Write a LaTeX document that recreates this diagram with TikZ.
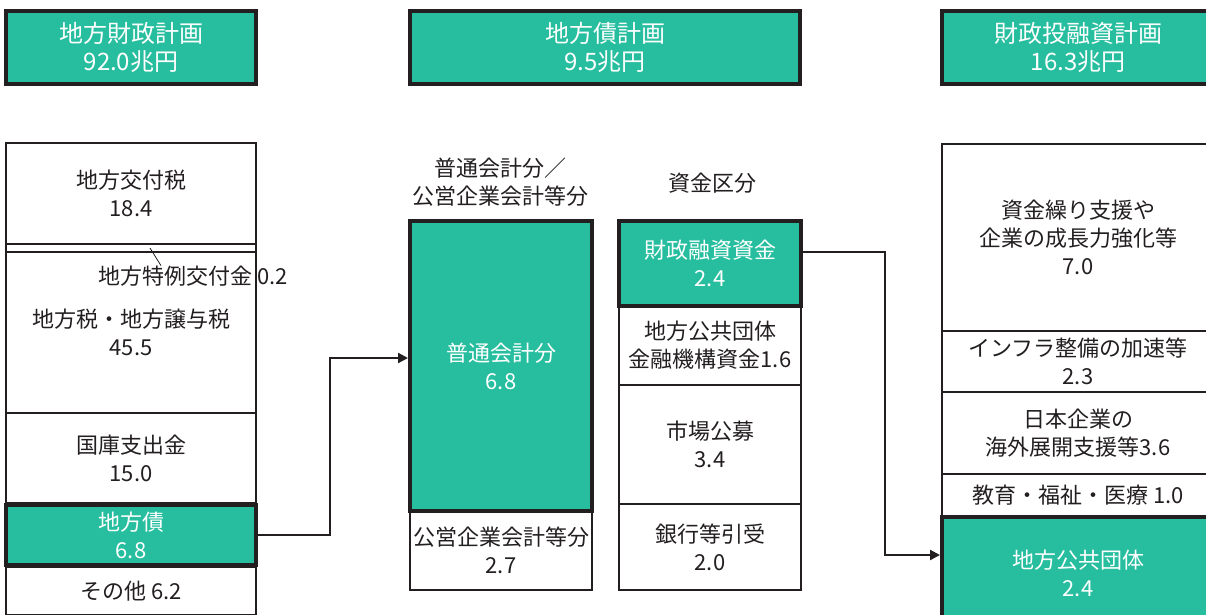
\documentclass[tikz,border=0pt]{standalone}
\usepackage{fontspec}
\setmainfont{Noto Sans CJK JP}
\usetikzlibrary{arrows.meta,calc}
\definecolor{ink}{HTML}{231F20}
\definecolor{mint}{HTML}{27BE9F}
\newcommand{\segfont}{\fontsize{22}{28}\selectfont}
\newcommand{\planfont}{\fontsize{24}{28}\selectfont}

\begin{document}
\begin{tikzpicture}[x=1pt,y=-1pt,
  seg/.style={draw=ink,line width=1.5pt,inner sep=0pt,align=center,text=ink,font=\segfont},
  hot/.style={seg,fill=mint,line width=4pt,text=white},
  plan/.style={hot,font=\planfont},
  link/.style={draw=ink,line width=2.2pt,-{Triangle[length=10pt,width=10pt]}},
  leader/.style={draw=ink,line width=0.8pt}]
\clip (0,0) rectangle (1206,614);
% plan totals
\node[plan,minimum width=250pt,minimum height=73pt] (plana) at (131,47.5) {地方財政計画\\92.0兆円};
\node[plan,minimum width=390pt,minimum height=73pt] (planb) at (605,47.5) {地方債計画\\9.5兆円};
\node[plan,minimum width=272pt,minimum height=73pt] (planc) at (1078,47.5) {財政投融資計画\\16.3兆円};
% local finance
\node[seg,minimum width=250pt,minimum height=101pt] (kofu) at (131,193.5) {地方交付税\\18.4};
\node[seg,minimum width=250pt,minimum height=8pt] (tokurei) at (131,248) {};
\node[seg,minimum width=250pt,minimum height=161pt] (zei) at (131,332.5) {地方税・地方譲与税\\45.5};
\node[seg,minimum width=250pt,minimum height=90pt] (kokko) at (131,458) {国庫支出金\\15.0};
\node[seg,minimum width=250pt,minimum height=48pt] (sonota) at (131,591) {その他 6.2};
\node[hot,minimum width=250pt,minimum height=60pt] (chihosai) at (131,535) {地方債\\6.8};
\node[inner sep=0pt,text=ink,font=\segfont] (tokureilbl) at (193,276) {地方特例交付金 0.2};
\draw[leader] ($(tokurei.center)+(19,0)$) -- ($(tokureilbl.north)+(-32,0)$);
% bond plan
\node[text=ink,font=\segfont,align=center] (hdra) at (500,182) {普通会計分／\\公営企業会計等分};
\node[text=ink,font=\segfont] (hdrb) at (712,183) {資金区分};
\node[seg,minimum width=182pt,minimum height=79pt] (koei) at (501,550.5) {公営企業会計等分\\2.7};
\node[hot,minimum width=182pt,minimum height=290pt] (futsu) at (501,366) {普通会計分\\6.8};
\node[seg,minimum width=182pt,minimum height=79pt] (kiko) at (710,345.5) {地方公共団体\\金融機構資金1.6};
\node[seg,minimum width=182pt,minimum height=119pt] (shijo) at (710,444.5) {市場公募\\3.4};
\node[seg,minimum width=182pt,minimum height=86pt] (ginko) at (710,547) {銀行等引受\\2.0};
\node[hot,minimum width=182pt,minimum height=85pt] (zaiyu) at (710,263.5) {財政融資資金\\2.4};
% fiscal investment plan
\node[seg,minimum width=272pt,minimum height=187pt] (shikin) at (1078,237.5) {資金繰り支援や\\企業の成長力強化等\\7.0};
\node[seg,minimum width=272pt,minimum height=61pt] (infra) at (1078,361.5) {インフラ整備の加速等\\2.3};
\node[seg,minimum width=272pt,minimum height=82pt] (kaigai) at (1078,433) {日本企業の\\海外展開支援等3.6};
\node[seg,minimum width=272pt,minimum height=42pt] (kyoiku) at (1078,495) {教育・福祉・医療 1.0};
\node[hot,minimum width=272pt,minimum height=113pt] (dantai) at (1078,573.5) {地方公共団体\\2.4};
% flows
\coordinate (ja) at (330,358);
\coordinate (jb) at (885,252);
\coordinate (jc) at (885,555);
\draw[link] (chihosai.east) -| (ja) -- (futsu.west |- ja);
\draw[link] (zaiyu.east |- jb) -- (jb) -- (jc) -- (dantai.west |- jc);
\end{tikzpicture}
\end{document}
